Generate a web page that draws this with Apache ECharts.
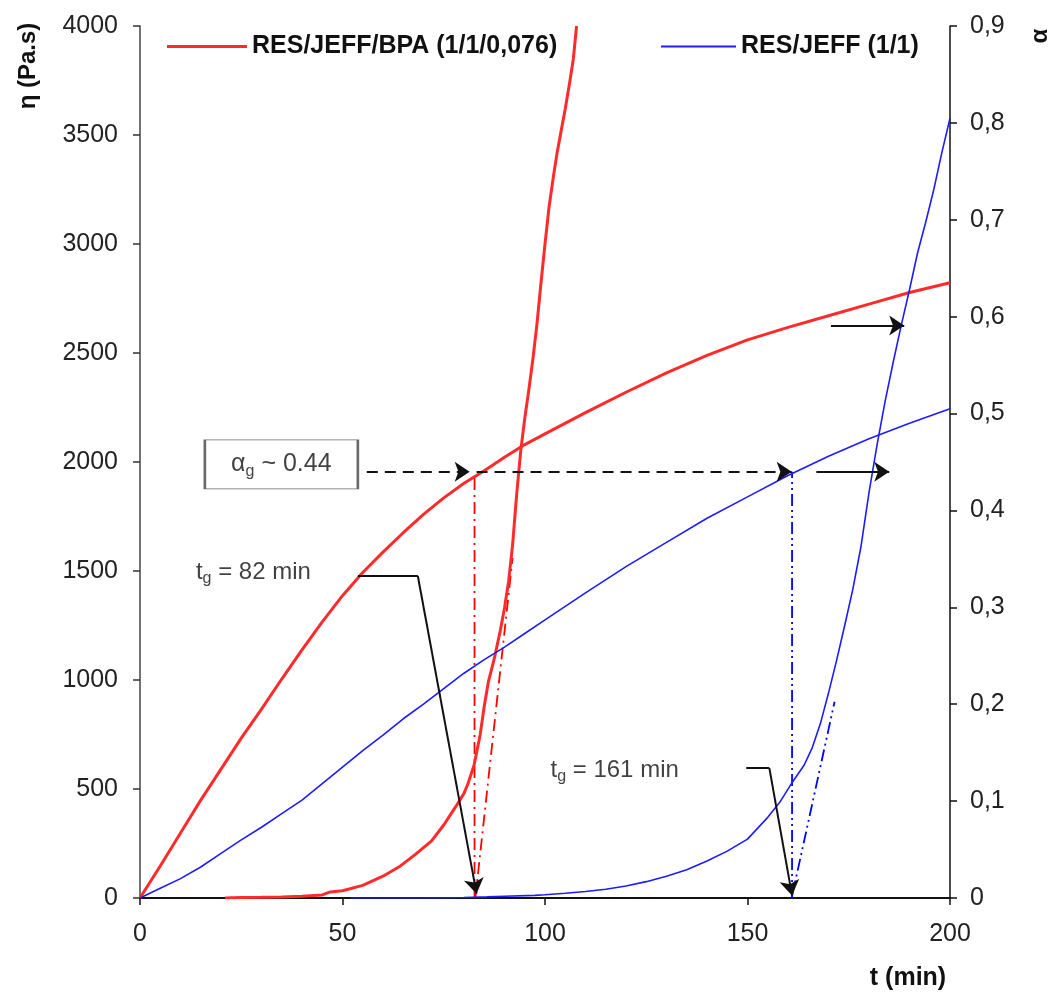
<!DOCTYPE html>
<html><head><meta charset="utf-8">
<script src="https://cdn.jsdelivr.net/npm/echarts@6/dist/echarts.min.js"></script>
<style>html,body{margin:0;padding:0;background:#fff}#c{width:1050px;height:994px}</style>
</head><body><div id="c"></div>
<script>
// ---- data ----
const seriesNames = ['RES/JEFF/BPA (1/1/0,076)', 'RES/JEFF (1/1)'];
const timeAlpha = [0,5,10,15,20,25,30,35,40,45,50,55,60,65,70,75,80,85,90,95,100,110,120,130,140,150,160,170,180,190,200];
const redAlpha  = [0,0.033,0.067,0.101,0.133,0.165,0.195,0.226,0.256,0.285,0.312,0.336,0.357,0.377,0.396,0.413,0.428,0.441,0.455,0.468,0.479,0.501,0.522,0.542,0.56,0.576,0.589,0.601,0.613,0.625,0.635];
const blueAlpha = [0,0.01,0.02,0.032,0.046,0.06,0.073,0.087,0.101,0.118,0.135,0.152,0.168,0.185,0.2,0.216,0.232,0.246,0.259,0.273,0.287,0.315,0.342,0.367,0.392,0.414,0.436,0.456,0.474,0.49,0.505];
const timeRedVisc = [21,25,30,35,40,45,47,50,55,60,64,68,72,75,78,80,81,82.5,84,85,86,87.5,89,90,91,92,93,94,95,96,97,98,99,100,101,102,103,104,105,106,107,107.8];
const redVisc     = [0,2,3,5,8,14,28,33,58,100,143,200,262,335,420,480,525,610,750,880,990,1100,1230,1330,1450,1620,1850,2050,2200,2330,2470,2630,2820,3000,3170,3300,3420,3520,3620,3730,3850,4000];
const timeBlueVisc = [52,60,70,80,85.7,90,97.5,100,105,110,115,120,125,130,135,140,145,150,155,158,161,164,166,168,170,172,174,176,178,180,182,184,186,188,190,192,194,196,198,200];
const blueVisc     = [0,0,0,2,5,8,12,15,22,30,40,55,75,100,130,170,215,270,370,440,529,610,690,800,940,1090,1250,1416,1610,1860,2080,2280,2460,2630,2790,2960,3100,3250,3420,3577];

// axis ticks
const xTicks = {min:0, max:200, interval:50};
const etaTicks = {min:0, max:4000, interval:500};
const alphaTicks = {min:0, max:0.9, interval:0.1};

// annotations (data units)
const alphaGel = 0.44;
const tgRed = 82.6, tgBlue = 161;
const redVertTop = 0.435, blueVertTop = 0.44;
const redTangent = [[82.8,0],[92,1560]];
const blueTangent = [[160.9,0],[171.5,900]];
const dashedArrows = [[[56,alphaGel],[81.4,alphaGel]], [[83.1,alphaGel],[160.9,alphaGel]]];
const solidArrows = [[[167,alphaGel],[185,alphaGel]], [[170.6,0.591],[188.7,0.591]]];
const tgRedLeader = [[53.8,1477],[68.6,1477]];
const tgRedArrow = [[68.6,1477],[83.1,20]];
const tgBlueLeader = [[149.7,596],[155.4,596]];
const tgBlueArrow = [[155.4,596],[161,12]];
const boxPos = [34.9, 0.4475];
const tgRedLabelPos = [28, 1495];
const tgBlueLabelPos = [117.2, 587];

const zip = (a,b) => a.map((v,i)=>[v,b[i]]);
const RED = '#ff2b2b', BLUE = '#1c1cff';
const FONT = 'Liberation Sans, Arial, sans-serif';

const chart = echarts.init(document.getElementById('c'), null, {renderer:'canvas'});
const axisLabelBase = {fontSize:25, color:'#222', fontFamily:FONT};
const legendText = {fontSize:25, fontWeight:'bold', color:'#111', fontFamily:FONT};
const option = {
  animation:false,
  backgroundColor:'#fff',
  grid:{left:140, right:100, top:26, bottom:96},
  legend:[
    {data:[seriesNames[0]], left:162, top:29, icon:'rect', itemWidth:80, itemHeight:3, textStyle:legendText},
    {data:[seriesNames[1]], left:656, top:29, icon:'rect', itemWidth:75, itemHeight:2, textStyle:legendText}
  ],
  xAxis:{type:'value', min:xTicks.min, max:xTicks.max, interval:xTicks.interval,
    axisLine:{show:true, onZero:false, lineStyle:{color:'#111', width:2}},
    axisTick:{show:true, length:7, lineStyle:{color:'#111', width:1.5}},
    axisLabel:Object.assign({margin:24, formatter:v => String(v)}, axisLabelBase),
    splitLine:{show:false}},
  yAxis:[
    {type:'value', min:etaTicks.min, max:etaTicks.max, interval:etaTicks.interval, position:'left',
      axisLine:{show:true, onZero:false, lineStyle:{color:'#444', width:1.5}},
      axisTick:{show:true, length:7, lineStyle:{color:'#333', width:1.5}},
      axisLabel:Object.assign({margin:22, formatter:v => String(v)}, axisLabelBase),
      splitLine:{show:false}},
    {type:'value', min:alphaTicks.min, max:alphaTicks.max, interval:alphaTicks.interval, position:'right',
      axisLine:{show:true, onZero:false, lineStyle:{color:'#111', width:1.5}},
      axisTick:{show:true, length:7, lineStyle:{color:'#111', width:1.5}},
      axisLabel:Object.assign({margin:20, formatter:v => v === 0 ? '0' : v.toFixed(1).replace('.', ',')}, axisLabelBase),
      splitLine:{show:false}}
  ],
  graphic:[
    {type:'text', x:28, y:66, rotation:Math.PI/2, style:{text:'η (Pa.s)', font:'bold 24px '+FONT, fill:'#111', align:'center', verticalAlign:'middle'}},
    {type:'text', x:1040, y:36, rotation:Math.PI/2, style:{text:'α', font:'bold 24px '+FONT, fill:'#111', align:'center', verticalAlign:'middle'}},
    {type:'text', x:908, y:978, style:{text:'t (min)', font:'bold 25px '+FONT, fill:'#111', align:'center', verticalAlign:'middle'}}
  ],
  series:[
    {name:seriesNames[0], type:'line', yAxisIndex:1, data:zip(timeAlpha, redAlpha), showSymbol:false, symbol:'none', lineStyle:{color:RED, width:3}, itemStyle:{color:RED}, z:5},
    {name:seriesNames[0], type:'line', yAxisIndex:0, data:zip(timeRedVisc, redVisc), showSymbol:false, symbol:'none', lineStyle:{color:RED, width:3}, itemStyle:{color:RED}, z:5},
    {name:seriesNames[1], type:'line', yAxisIndex:1, data:zip(timeAlpha, blueAlpha), showSymbol:false, symbol:'none', lineStyle:{color:BLUE, width:1.6}, itemStyle:{color:BLUE}, z:5},
    {name:seriesNames[1], type:'line', yAxisIndex:0, data:zip(timeBlueVisc, blueVisc), showSymbol:false, symbol:'none', lineStyle:{color:BLUE, width:1.6}, itemStyle:{color:BLUE}, z:5},
    // vertical dash-dot lines to the conversion curves
    {type:'line', yAxisIndex:1, data:[[tgRed,0],[tgRed,redVertTop]], symbol:'none', silent:true, lineStyle:{color:'#ff0000', width:1.8, type:[12,5,2,5]}},
    {type:'line', yAxisIndex:1, data:[[tgBlue,0],[tgBlue,blueVertTop]], symbol:'none', silent:true, lineStyle:{color:'#0000ff', width:1.8, type:[12,4,2,4,2,4]}},
    // tangent extrapolations
    {type:'line', yAxisIndex:0, data:redTangent, symbol:'none', silent:true, lineStyle:{color:'#ff0000', width:1.8, type:[12,5,2,5]}},
    {type:'line', yAxisIndex:0, data:blueTangent, symbol:'none', silent:true, lineStyle:{color:'#0000ff', width:1.8, type:[12,4,2,4,2,4]}},
    // dashed arrows at alpha_g
    {type:'lines', coordinateSystem:'cartesian2d', xAxisIndex:0, yAxisIndex:1, silent:true, z:6,
      symbol:['none','arrow'], symbolSize:[11,15],
      lineStyle:{color:'#111', width:2, type:[11,7], opacity:1, curveness:0},
      data:dashedArrows.map(c=>({coords:c}))},
    {type:'lines', coordinateSystem:'cartesian2d', xAxisIndex:0, yAxisIndex:1, silent:true, z:6,
      symbol:['none','arrow'], symbolSize:[11,15],
      lineStyle:{color:'#111', width:2, opacity:1, curveness:0},
      data:solidArrows.map(c=>({coords:c}))},
    // t_g leaders
    {type:'lines', coordinateSystem:'cartesian2d', xAxisIndex:0, yAxisIndex:0, silent:true, z:6,
      symbol:['none','none'],
      lineStyle:{color:'#111', width:2, opacity:1, curveness:0},
      data:[{coords:tgRedLeader},{coords:tgBlueLeader}]},
    {type:'lines', coordinateSystem:'cartesian2d', xAxisIndex:0, yAxisIndex:0, silent:true, z:6,
      symbol:['none','arrow'], symbolSize:[11,15],
      lineStyle:{color:'#111', width:2, opacity:1, curveness:0},
      data:[{coords:tgRedArrow},{coords:tgBlueArrow}]},
    // box with alpha_g and the t_g labels
    {type:'scatter', yAxisIndex:1, silent:true, z:7, data:[boxPos], symbol:'rect', symbolSize:[153,49],
      itemStyle:{color:'#fff', borderColor:'#444', borderWidth:1.5},
      label:{show:true, position:'inside', formatter:'{a|α}{s|g}{a| ~ 0.44}',
        rich:{a:{fontSize:25, lineHeight:30, verticalAlign:'middle', color:'#111', fontFamily:FONT},
              s:{fontSize:16, lineHeight:16, verticalAlign:'bottom', color:'#111', fontFamily:FONT}}}},
    {type:'scatter', yAxisIndex:0, silent:true, z:7, data:[tgRedLabelPos, tgBlueLabelPos], symbolSize:0,
      label:{show:true, position:'inside', formatter:p => p.dataIndex === 0 ? '{a|t}{s|g}{a| = 82 min}' : '{a|t}{s|g}{a| = 161 min}',
        rich:{a:{fontSize:24, lineHeight:30, verticalAlign:'middle', color:'#111', fontFamily:FONT},
              s:{fontSize:16, lineHeight:16, verticalAlign:'bottom', color:'#111', fontFamily:FONT}}}}
  ]
};
chart.setOption(option);
</script>
</body></html>
